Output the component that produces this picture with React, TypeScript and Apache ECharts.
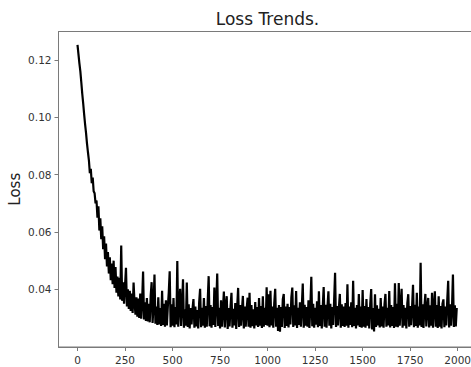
import React, { useEffect, useRef } from "react";
import * as echarts from "echarts";

const STEP = 5;
const losses: number[] = [
  // 0 - 95
  0.1252, 0.1220, 0.1188, 0.1160, 0.1122, 0.1082, 0.1048, 0.1010, 0.0975, 0.0945,
  0.0908, 0.0878, 0.0850, 0.0805, 0.0820, 0.0770, 0.0790, 0.0742, 0.0735, 0.0700,
  // 100 - 195
  0.0710, 0.0650, 0.0690, 0.0605, 0.0648, 0.0575, 0.0620, 0.0540, 0.0585, 0.0505,
  0.0560, 0.0480, 0.0530, 0.0455, 0.0512, 0.0432, 0.0490, 0.0418, 0.0500, 0.0405,
  // 200 - 295
  0.0478, 0.0388, 0.0445, 0.0375, 0.0440, 0.0365, 0.0553, 0.0360, 0.0425, 0.0350,
  0.0412, 0.0475, 0.0340, 0.0400, 0.0332, 0.0395, 0.0325, 0.0385, 0.0318, 0.0424,
  // 300 - 395
  0.0355, 0.0312, 0.0372, 0.0305, 0.0368, 0.0300, 0.0385, 0.0298, 0.0360, 0.0462,
  0.0295, 0.0355, 0.0290, 0.0370, 0.0288, 0.0350, 0.0285, 0.0378, 0.0425, 0.0283,
  // 400 - 495
  0.0345, 0.0452, 0.0280, 0.0340, 0.0276, 0.0372, 0.0278, 0.0335, 0.0272, 0.0395,
  0.0276, 0.0350, 0.0270, 0.0362, 0.0274, 0.0338, 0.0388, 0.0463, 0.0268, 0.0348,
  // 500 - 595
  0.0273, 0.0370, 0.0268, 0.0338, 0.0278, 0.0499, 0.0270, 0.0352, 0.0402, 0.0272,
  0.0340, 0.0435, 0.0266, 0.0330, 0.0273, 0.0424, 0.0269, 0.0348, 0.0264, 0.0335,
  // 600 - 695
  0.0278, 0.0332, 0.0366, 0.0266, 0.0340, 0.0271, 0.0328, 0.0264, 0.0355, 0.0402,
  0.0268, 0.0336, 0.0273, 0.0370, 0.0266, 0.0342, 0.0270, 0.0360, 0.0446, 0.0271,
  // 700 - 795
  0.0345, 0.0266, 0.0338, 0.0276, 0.0406, 0.0269, 0.0350, 0.0455, 0.0272, 0.0336,
  0.0264, 0.0362, 0.0270, 0.0330, 0.0392, 0.0267, 0.0345, 0.0376, 0.0262, 0.0335,
  // 800 - 895
  0.0271, 0.0340, 0.0388, 0.0266, 0.0332, 0.0274, 0.0352, 0.0262, 0.0338, 0.0405,
  0.0269, 0.0345, 0.0273, 0.0328, 0.0377, 0.0264, 0.0340, 0.0270, 0.0333, 0.0371,
  // 900 - 995
  0.0270, 0.0388, 0.0266, 0.0345, 0.0272, 0.0330, 0.0264, 0.0356, 0.0274, 0.0338,
  0.0269, 0.0370, 0.0273, 0.0342, 0.0265, 0.0376, 0.0270, 0.0336, 0.0276, 0.0407,
  // 1000 - 1095
  0.0273, 0.0383, 0.0268, 0.0395, 0.0274, 0.0340, 0.0266, 0.0352, 0.0402, 0.0270,
  0.0336, 0.0255, 0.0345, 0.0252, 0.0338, 0.0269, 0.0366, 0.0384, 0.0265, 0.0340,
  // 1100 - 1195
  0.0272, 0.0350, 0.0267, 0.0338, 0.0278, 0.0372, 0.0406, 0.0269, 0.0344, 0.0274,
  0.0394, 0.0265, 0.0336, 0.0276, 0.0355, 0.0270, 0.0340, 0.0420, 0.0266, 0.0346,
  // 1200 - 1295
  0.0273, 0.0338, 0.0270, 0.0362, 0.0265, 0.0342, 0.0444, 0.0271, 0.0350, 0.0266,
  0.0336, 0.0277, 0.0358, 0.0268, 0.0393, 0.0272, 0.0345, 0.0264, 0.0338, 0.0408,
  // 1300 - 1395
  0.0270, 0.0346, 0.0266, 0.0340, 0.0393, 0.0273, 0.0350, 0.0264, 0.0338, 0.0276,
  0.0362, 0.0458, 0.0269, 0.0342, 0.0274, 0.0335, 0.0384, 0.0266, 0.0348, 0.0272,
  // 1400 - 1495
  0.0340, 0.0269, 0.0352, 0.0273, 0.0418, 0.0266, 0.0340, 0.0276, 0.0355, 0.0268,
  0.0430, 0.0272, 0.0336, 0.0264, 0.0345, 0.0274, 0.0384, 0.0269, 0.0340, 0.0266,
  // 1500 - 1595
  0.0398, 0.0270, 0.0342, 0.0266, 0.0366, 0.0273, 0.0338, 0.0264, 0.0350, 0.0401,
  0.0260, 0.0335, 0.0253, 0.0383, 0.0269, 0.0344, 0.0274, 0.0332, 0.0267, 0.0370,
  // 1600 - 1695
  0.0271, 0.0340, 0.0266, 0.0348, 0.0384, 0.0270, 0.0336, 0.0274, 0.0394, 0.0267,
  0.0345, 0.0272, 0.0338, 0.0265, 0.0421, 0.0270, 0.0350, 0.0268, 0.0422, 0.0273,
  // 1700 - 1795
  0.0340, 0.0402, 0.0266, 0.0345, 0.0273, 0.0336, 0.0264, 0.0352, 0.0383, 0.0270,
  0.0342, 0.0275, 0.0338, 0.0416, 0.0268, 0.0346, 0.0272, 0.0388, 0.0266, 0.0340,
  // 1800 - 1895
  0.0274, 0.0493, 0.0269, 0.0348, 0.0265, 0.0340, 0.0384, 0.0271, 0.0336, 0.0370,
  0.0267, 0.0344, 0.0273, 0.0388, 0.0266, 0.0338, 0.0393, 0.0270, 0.0345, 0.0265,
  // 1900 - 1995
  0.0376, 0.0270, 0.0342, 0.0264, 0.0350, 0.0365, 0.0268, 0.0340, 0.0274, 0.0362,
  0.0430, 0.0267, 0.0348, 0.0273, 0.0336, 0.0452, 0.0269, 0.0344, 0.0271, 0.0335,
];

const xTickValues: number[] = [0, 250, 500, 750, 1000, 1250, 1500, 1750, 2000];
const yTickValues: number[] = [0.04, 0.06, 0.08, 0.1, 0.12];

const TITLE = "Loss Trends.";
const Y_NAME = "Loss";

export default function App() {
  const ref = useRef<HTMLDivElement>(null);

  useEffect(() => {
    if (!ref.current) return;
    document.body.style.overflow = "hidden";
    const chart = echarts.init(ref.current, null, { renderer: "svg" });
    const points = losses.map((v, i) => [i * STEP, v]);
    const font = "DejaVu Sans";
    chart.setOption({
      animation: false,
      backgroundColor: "#ffffff",
      title: {
        text: TITLE,
        left: "center",
        top: 5,
        textStyle: {
          fontFamily: font,
          fontSize: 17,
          fontWeight: "normal",
          color: "#222",
        },
      },
      grid: {
        left: 58.5,
        right: 58.5,
        top: 31.5,
        bottom: 20,
        show: true,
        borderColor: "#7a7a7a",
        borderWidth: 1,
        backgroundColor: "transparent",
        containLabel: false,
        outerBoundsMode: "none",
      },
      xAxis: {
        type: "value",
        min: -99.95,
        max: 2098.95,
        splitLine: { show: false },
        axisLine: { show: true, onZero: false, lineStyle: { color: "#7a7a7a", width: 1 } },
        axisTick: {
          show: true,
          length: 4,
          lineStyle: { color: "#7a7a7a", width: 1 },
          customValues: xTickValues,
        },
        axisLabel: {
          customValues: xTickValues,
          fontFamily: font,
          fontSize: 10.5,
          color: "#333",
          margin: 7,
          formatter: (v: number) => String(v),
        },
      },
      yAxis: {
        type: "value",
        min: 0.0199,
        max: 0.1299,
        name: Y_NAME,
        nameLocation: "middle",
        nameGap: 36,
        nameMoveOverlap: false,
        nameTextStyle: { fontFamily: font, fontSize: 15, color: "#222" },
        splitLine: { show: false },
        axisLine: { show: true, onZero: false, lineStyle: { color: "#7a7a7a", width: 1 } },
        axisTick: {
          show: true,
          length: 4,
          lineStyle: { color: "#7a7a7a", width: 1 },
          customValues: yTickValues,
        },
        axisLabel: {
          customValues: yTickValues,
          fontFamily: font,
          fontSize: 10.5,
          color: "#333",
          margin: 7,
          formatter: (v: number) => v.toFixed(2),
        },
      },
      series: [
        {
          type: "line",
          data: points,
          showSymbol: false,
          symbol: "none",
          lineStyle: { color: "#000", width: 2.2 },
          silent: true,
        },
      ],
    });
    return () => {
      chart.dispose();
    };
  }, []);

  return (
    <div
      ref={ref}
      style={{ position: "fixed", left: 0, top: 0, width: 535, height: 367, background: "#fff" }}
    />
  );
}
